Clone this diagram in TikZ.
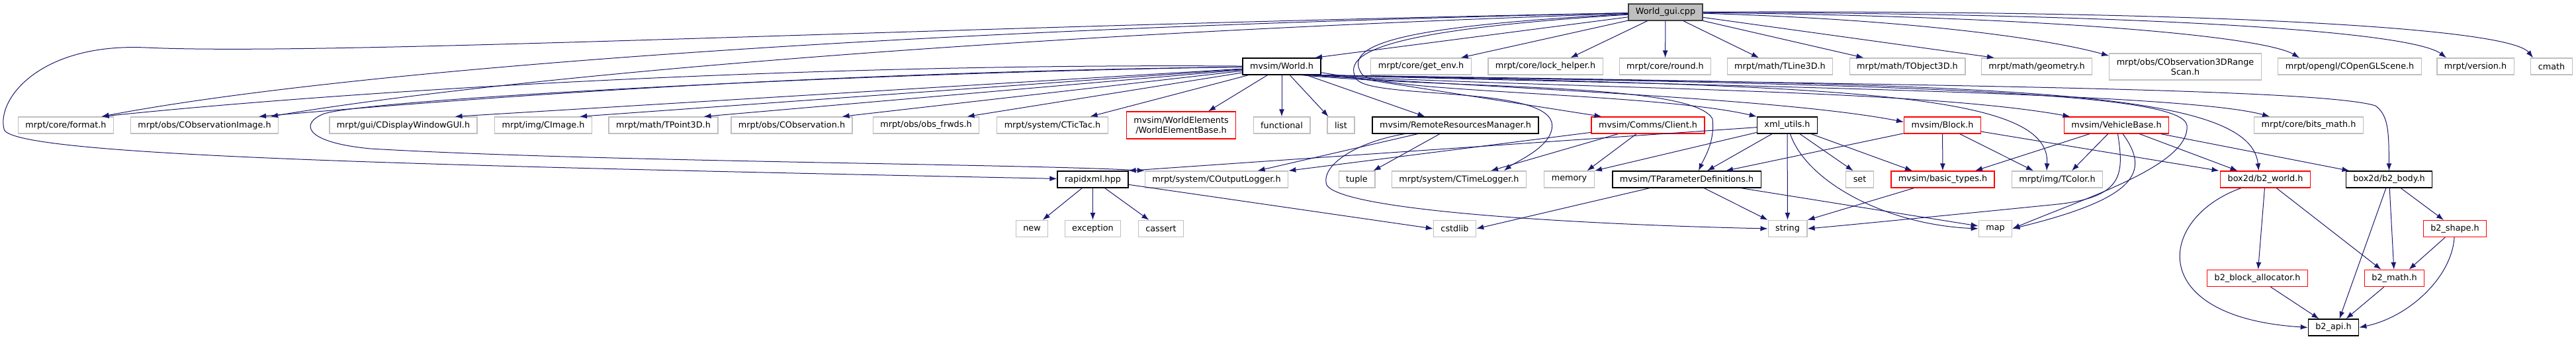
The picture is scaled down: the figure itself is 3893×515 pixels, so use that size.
\documentclass[tikz,border=0pt]{standalone}
\usepackage{fontspec}
\setmainfont{DejaVu Sans}
\usepackage{tikz}
\usetikzlibrary{arrows.meta}

\definecolor{edgeblue}{HTML}{191970}
\definecolor{boxgray}{HTML}{BFBFBF}
\definecolor{rootline}{HTML}{404040}

\begin{document}
\begin{tikzpicture}[x=1pt,y=-1pt,>={Latex[length=11pt,width=8pt]}]
    \tikzstyle{every node}=[shape=rectangle,draw,line width=1.3pt,inner xsep=11pt,inner ysep=0pt,minimum height=25pt,font=\fontsize{12.8}{15}\selectfont];
    \tikzstyle{sys}=[draw=boxgray];
    \tikzstyle{doc}=[draw=black];
    \tikzstyle{trunc}=[draw=red];
    \tikzstyle{root}=[draw=rootline,fill=boxgray];
    \tikzstyle{twoline}=[align=center,minimum height=41pt];
    \tikzstyle{dep}=[->,draw=edgeblue,line width=1pt];

    \useasboundingbox (0,0) rectangle (3893,515);

    % the source file
    \node[root] (gui) at (2517,18.5) {World\_gui.cpp};

    % direct includes
    \node[doc] (world) at (1937,100.5) {mvsim/World.h};
    \node[sys] (getenv) at (2147.5,100.5) {mrpt/core/get\_env.h};
    \node[sys] (lockhelper) at (2335.5,100.5) {mrpt/core/lock\_helper.h};
    \node[sys] (round) at (2516.5,100.5) {mrpt/core/round.h};
    \node[sys] (tline) at (2690,100.5) {mrpt/math/TLine3D.h};
    \node[sys] (tobject) at (2882.5,100.5) {mrpt/math/TObject3D.h};
    \node[sys] (geometry) at (3078,100.5) {mrpt/math/geometry.h};
    \node[sys,twoline,minimum height=40pt] (rangescan) at (3302.5,101) {mrpt/obs/CObservation3DRange\\Scan.h};
    \node[sys] (opengl) at (3551,100.5) {mrpt/opengl/COpenGLScene.h};
    \node[sys] (version) at (3741,100.5) {mrpt/version.h};
    \node[sys] (cmath) at (3856,100.5) {cmath};

    \node[sys] (format) at (99.5,189.5) {mrpt/core/format.h};
    \node[sys] (obsimage) at (309,189.5) {mrpt/obs/CObservationImage.h};
    \node[sys] (displaygui) at (609.5,189.5) {mrpt/gui/CDisplayWindowGUI.h};
    \node[sys] (cimage) at (821,189.5) {mrpt/img/CImage.h};
    \node[sys] (tpoint) at (1002.5,189.5) {mrpt/math/TPoint3D.h};
    \node[sys] (cobservation) at (1196.5,189.5) {mrpt/obs/CObservation.h};
    \node[sys] (obsfrwds) at (1399.5,189.5) {mrpt/obs/obs\_frwds.h};
    \node[sys] (tictac) at (1590.5,189.5) {mrpt/system/CTicTac.h};
    \node[trunc,twoline] (elementbase) at (1785,189.5) {mvsim/WorldElements\\/WorldElementBase.h};
    \node[sys] (functional) at (1937,189.5) {functional};
    \node[sys] (list) at (2026.5,189.5) {list};
    \node[doc] (remote) at (2199.5,189.5) {mvsim/RemoteResourcesManager.h};
    \node[trunc] (client) at (2490.5,189.5) {mvsim/Comms/Client.h};
    \node[doc] (xmlutils) at (2701,189.5) {xml\_utils.h};
    \node[trunc] (block) at (2935.5,189.5) {mvsim/Block.h};
    \node[trunc] (vehicle) at (3198.5,189.5) {mvsim/VehicleBase.h};
    \node[sys] (bitsmath) at (3489,189.5) {mrpt/core/bits\_math.h};

    \node[doc] (rapidxml) at (1651.5,271.5) {rapidxml.hpp};
    \node[sys] (coutlogger) at (1838.5,271.5) {mrpt/system/COutputLogger.h};
    \node[sys] (tuple) at (2050.5,271.5) {tuple};
    \node[sys] (ctimelogger) at (2205,271.5) {mrpt/system/CTimeLogger.h};
    \node[sys] (memory) at (2371.5,271.5) {memory};
    \node[doc] (tparam) at (2549,271.5) {mvsim/TParameterDefinitions.h};
    \node[sys] (set) at (2810.5,271.5) {set};
    \node[trunc] (basictypes) at (2936,271.5) {mvsim/basic\_types.h};
    \node[sys] (tcolor) at (3109,271.5) {mrpt/img/TColor.h};
    \node[trunc] (b2world) at (3423.5,271.5) {box2d/b2\_world.h};
    \node[doc] (b2body) at (3610.5,271.5) {box2d/b2\_body.h};

    \node[sys] (new) at (1559.5,346) {new};
    \node[sys] (exception) at (1651.5,346) {exception};
    \node[sys] (cassert) at (1754.5,346) {cassert};
    \node[sys] (cstdlib) at (2198.5,346) {cstdlib};
    \node[sys] (string) at (2701.5,346) {string};
    \node[sys] (map) at (3015.5,346) {map};
    \node[trunc] (b2shape) at (3710,346) {b2\_shape.h};

    \node[trunc] (allocator) at (3411.5,421) {b2\_block\_allocator.h};
    \node[trunc] (b2math) at (3618.5,421) {b2\_math.h};

    \node[doc] (b2api) at (3526.5,495.5) {b2\_api.h};

    % from World_gui.cpp
    \draw[dep] (gui) -- ([xshift=50pt]world.north);
    \draw[dep] (gui) -- ([xshift=60pt]getenv.north);
    \draw[dep] (gui) -- ([xshift=38pt]lockhelper.north);
    \draw[dep] (gui) -- (round);
    \draw[dep] (gui) -- ([xshift=-32pt]tline.north);
    \draw[dep] (gui) -- ([xshift=-66pt]tobject.north);
    \draw[dep] (gui) -- ([xshift=-64pt]geometry.north);
    \draw[dep] (gui) .. controls (2900,30) and (3100,60) .. ([yshift=-4pt]rangescan.north west);
    \draw[dep] (gui) .. controls (3100,25) and (3420,55) .. ([xshift=-76pt]opengl.north);
    \draw[dep] (gui) .. controls (3200,20) and (3640,45) .. ([xshift=-44pt]version.north);
    \draw[dep] (gui) .. controls (3300,15) and (3790,40) .. ([xshift=-28pt]cmath.north);
    \draw[dep] (gui) .. controls (1300,45) and (500,110) .. ([xshift=54pt]format.north);
    \draw[dep] (gui) .. controls (1300,60) and (650,135) .. ([xshift=100pt]obsimage.north);
    \draw[dep] (gui) .. controls (1400,40) and (500,85) .. (220,72) .. controls (60,65) and (-5,150) .. (6,195) .. controls (10,235) and (600,250) .. (rapidxml);
    \draw[dep] (gui) .. controls (2100,40) and (2030,70) .. (2058,112) .. controls (2075,140) and (2500,140) .. (xmlutils.north west);
    \draw[dep] (gui) .. controls (2100,45) and (2025,78) .. (2050,120) .. controls (2075,150) and (2330,130) .. (2345,185) .. controls (2352,220) and (2290,245) .. ([xshift=68pt]ctimelogger.north);

    % from mvsim/World.h
    \draw[dep] (world) .. controls (1200,95) and (500,140) .. ([xshift=54pt]format.north);
    \draw[dep] (world) .. controls (1200,110) and (700,150) .. ([xshift=82pt]obsimage.north);
    \draw[dep] (world) -- ([xshift=78pt]displaygui.north);
    \draw[dep] (world) -- ([xshift=55pt]cimage.north);
    \draw[dep] (world) -- ([xshift=61pt]tpoint.north);
    \draw[dep] (world) -- ([xshift=76pt]cobservation.north);
    \draw[dep] (world) -- ([xshift=62pt]obsfrwds.north);
    \draw[dep] (world) -- ([xshift=57pt]tictac.north);
    \draw[dep] (world) -- ([xshift=41pt]elementbase.north);
    \draw[dep] (world) -- (functional);
    \draw[dep] (world) -- ([xshift=-19pt]list.north);
    \draw[dep] (world) -- ([xshift=-46pt]remote.north);
    \draw[dep] (world) -- ([xshift=-70pt]client.north);
    \draw[dep] (world) .. controls (1300,110) and (560,150) .. (490,172) .. controls (455,185) and (455,215) .. (560,225) .. controls (900,245) and (1550,248) .. (coutlogger.north west);
    \draw[dep] ([xshift=30pt]world.south) .. controls (2200,135) and (2560,125) .. (2588,180) .. controls (2592,215) and (2575,240) .. ([xshift=18pt]tparam.north);
    \draw[dep] ([xshift=40pt]world.south) .. controls (2300,135) and (2700,150) .. ([yshift=5pt]block.west);
    \draw[dep] ([xshift=45pt]world.south) .. controls (2400,135) and (2900,135) .. ([xshift=-70pt]vehicle.north);
    \draw[dep] ([xshift=50pt]world.south) .. controls (2800,130) and (3100,140) .. ([xshift=-16pt]tcolor.north);
    \draw[dep] ([xshift=52pt]world.south) .. controls (2600,130) and (3300,140) .. ([xshift=-59pt]bitsmath.north);
    \draw[dep] ([xshift=54pt]world.south) .. controls (3000,128) and (3400,130) .. ([xshift=-10pt]b2world.north);
    \draw[dep] ([xshift=56pt]world.south) .. controls (2800,128) and (3500,132) .. (3590,160) .. controls (3610,175) and (3610,200) .. (b2body.north);
    \draw[dep] ([xshift=58pt]world.south) .. controls (2900,128) and (3300,140) .. (3305,190) .. controls (3310,250) and (3150,300) .. (map.east);

    % second level
    \draw[dep] (remote) -- ([xshift=62pt]coutlogger.north);
    \draw[dep] (remote) -- ([xshift=25pt]tuple.north);
    \draw[dep] (remote) .. controls (2050,215) and (1995,250) .. (2005,280) .. controls (2030,320) and (2400,340) .. (string.west);

    \draw[dep] (client) -- (coutlogger.north east);
    \draw[dep] (client) -- ([xshift=48pt]ctimelogger.north);
    \draw[dep] (client) -- ([xshift=27pt]memory.north);

    \draw[dep] (xmlutils) -- (rapidxml.north east);
    \draw[dep] (xmlutils) -- (memory.north east);
    \draw[dep] (xmlutils) -- ([xshift=31pt]tparam.north);
    \draw[dep] (xmlutils) -- (string);
    \draw[dep] (xmlutils) -- ([xshift=-10pt]set.north);
    \draw[dep] (xmlutils) -- ([xshift=-46pt]basictypes.north);
    \draw[dep] (xmlutils) .. controls (2730,275) and (2850,340) .. (map.west);

    \draw[dep] (block) -- ([xshift=59pt]tparam.north);
    \draw[dep] (block) -- (basictypes);
    \draw[dep] (block) -- ([xshift=-36pt]tcolor.north);
    \draw[dep] (block) -- ([xshift=-70pt]b2world.north);

    \draw[dep] (vehicle) -- ([xshift=49pt]basictypes.north);
    \draw[dep] (vehicle) -- ([xshift=22pt]tcolor.north);
    \draw[dep] (vehicle) -- ([xshift=-42pt]b2world.north);
    \draw[dep] (vehicle) -- ([xshift=-60pt]b2body.north);
    \draw[dep] (vehicle) .. controls (3210,265) and (3210,300) .. (3100,310) .. controls (2950,325) and (2800,340) .. (string.east);
    \draw[dep] (vehicle) .. controls (3250,260) and (3230,300) .. (map.east);

    % third level
    \draw[dep] (rapidxml) -- (new);
    \draw[dep] (rapidxml) -- (exception);
    \draw[dep] (rapidxml) -- (cassert);
    \draw[dep] (rapidxml) -- (cstdlib.west);

    \draw[dep] (tparam) -- (cstdlib.east);
    \draw[dep] (tparam) -- (string.north west);
    \draw[dep] (tparam) -- ([yshift=4pt]map.west);

    \draw[dep] (basictypes) -- (string.north east);

    % box2d
    \draw[dep] (b2world) .. controls (3260,330) and (3240,480) .. (b2api.west);
    \draw[dep] (b2world) -- (allocator);
    \draw[dep] (b2world) -- ([xshift=-20pt]b2math.north);
    \draw[dep] (b2body) -- ([xshift=9pt]b2api.north);
    \draw[dep] (b2body) -- (b2math);
    \draw[dep] (b2body) -- ([xshift=-17pt]b2shape.north);
    \draw[dep] (b2shape) -- ([xshift=22pt]b2math.north);
    \draw[dep] (b2shape) .. controls (3705,420) and (3640,480) .. (b2api.east);
    \draw[dep] (allocator) -- ([xshift=-22pt]b2api.north);
    \draw[dep] (b2math) -- ([xshift=19pt]b2api.north);

\end{tikzpicture}
\end{document}
